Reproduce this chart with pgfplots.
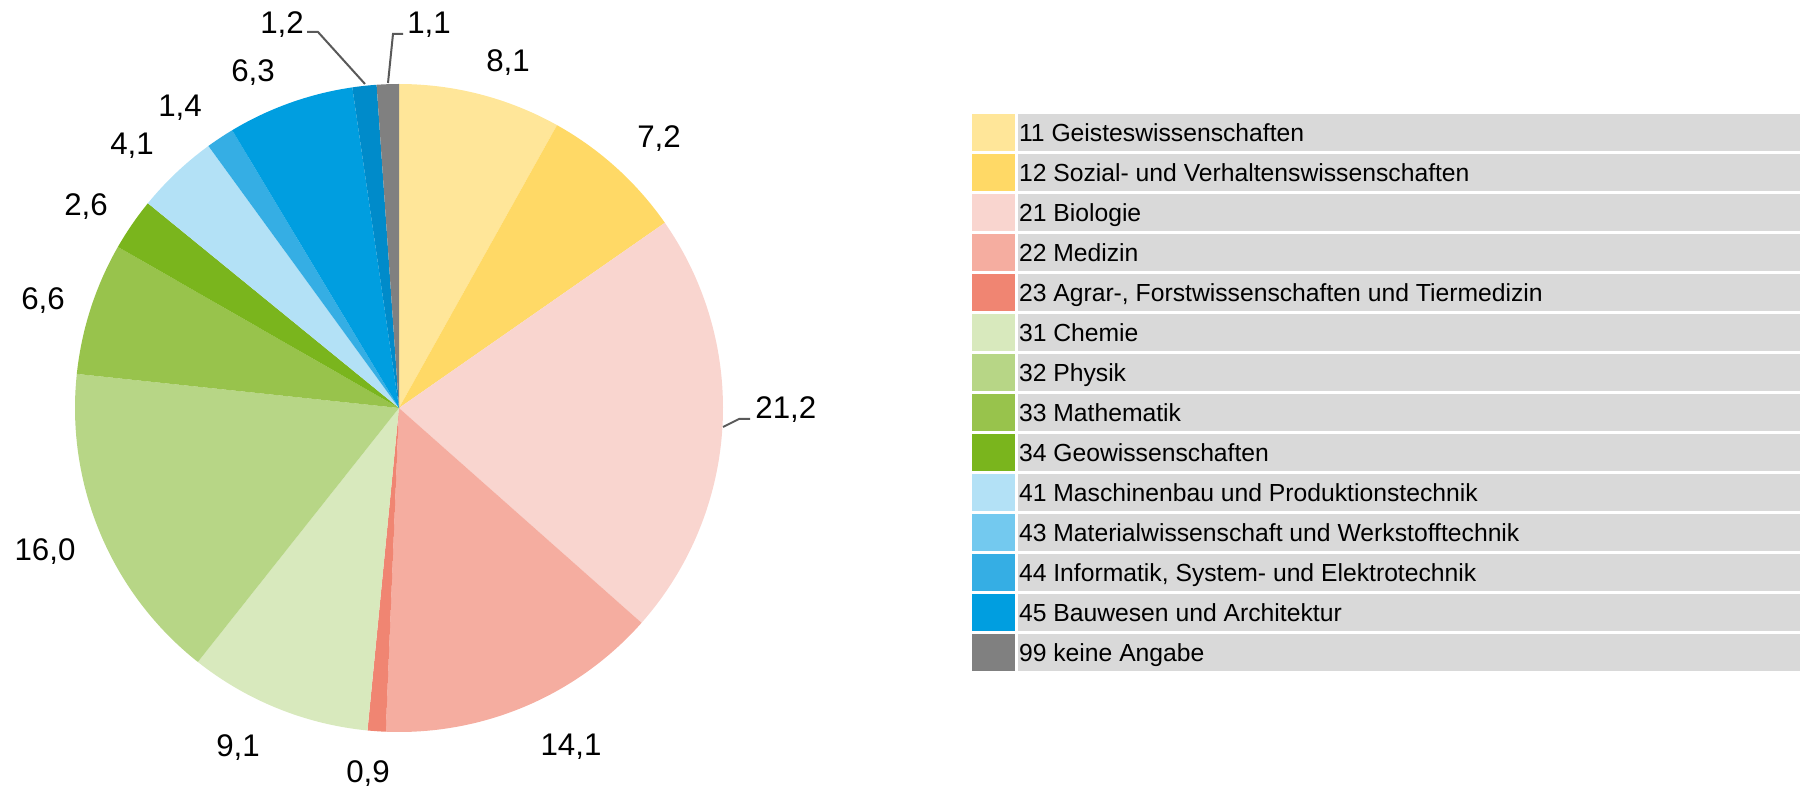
\documentclass[border=0pt]{standalone}
\usepackage{pgfplots}
\pgfplotsset{compat=1.18}
\usepackage{pgfplotstable}
\usepackage{fontspec}
\setmainfont{Liberation Sans}
\definecolor{c11}{HTML}{FFE699}
\definecolor{c12}{HTML}{FFD966}
\definecolor{c21}{HTML}{F9D5CF}
\definecolor{c22}{HTML}{F5ADA0}
\definecolor{c23}{HTML}{F08572}
\definecolor{c31}{HTML}{D8E9BD}
\definecolor{c32}{HTML}{B7D686}
\definecolor{c33}{HTML}{98C34C}
\definecolor{c34}{HTML}{7AB51D}
\definecolor{c41}{HTML}{B3E1F6}
\definecolor{c43}{HTML}{73C9EF}
\definecolor{c44}{HTML}{35AEE4}
\definecolor{c45}{HTML}{009EE0}
\definecolor{c46}{HTML}{008BCA}
\definecolor{c99}{HTML}{808080}
\definecolor{cbar}{HTML}{D9D9D9}
\definecolor{cline}{HTML}{595959}

\pgfplotstableread{
value color
8.1  c11
7.2  c12
21.2 c21
14.1 c22
0.9  c23
9.1  c31
16.0 c32
6.6  c33
2.6  c34
4.1  c41
1.4  c44
6.3  c45
1.2  c46
1.1  c99
}\piedata

\newcommand\pietotal{99.9}
\gdef\piecum{0}
\newcommand\pieslice[2]{%
  \pgfmathsetmacro\pa{90-\piecum*(360/\pietotal)}%
  \pgfmathsetmacro\pnew{\piecum+#2}%
  \xdef\piecum{\pnew}%
  \pgfmathsetmacro\pb{90-\piecum*(360/\pietotal)}%
  \edef\tmp{\noexpand\addplot[fill=#1, draw=none, domain=\pb:\pa, samples=100, forget plot] ({324*cos(x)},{324*sin(x)}) -- (axis cs:0,0) -- cycle;}%
  \tmp}

\tikzset{lbl/.style={font=\fontsize{15.7}{18}\selectfont, inner sep=0pt, text=black}}

\begin{document}
\begin{tikzpicture}
\begin{axis}[
  name=ax,
  x=0.5bp, y=0.5bp,
  xmin=-399, xmax=1401, ymin=-378, ymax=408,
  hide axis, clip=false,
  legend style={
    at={(axis cs:573,294)}, anchor=north west,
    draw=none, fill=none, inner sep=0pt, outer sep=0pt,
    row sep=1.5bp, column sep=2bp,
    font=\fontsize{12.4}{14}\selectfont,
    nodes={inner sep=0pt, outer sep=0pt, anchor=west, text height=11bp, text depth=1.8bp},
  },
  legend cell align=left,
  legend image code/.code={%
    \path[#1, draw=none] (0bp,-9.25bp) rectangle (21.5bp,9.25bp);
    \path[fill=cbar, draw=none, overlay] (23bp,-9.25bp) rectangle (414bp,9.25bp);
  },
]
\pgfplotsforeachungrouped \i in {0,...,13}{%
  \pgfplotstablegetelem{\i}{value}\of\piedata \let\pv\pgfplotsretval
  \pgfplotstablegetelem{\i}{color}\of\piedata \let\pc\pgfplotsretval
  \pieslice{\pc}{\pv}%
}
% leader lines
\addplot[cline, line width=1bp, forget plot] coordinates {(324,-19) (340,-11) (351,-11)};
\addplot[cline, line width=1bp, forget plot] coordinates {(-92,376) (-81,376) (-34,324)};
\addplot[cline, line width=1bp, forget plot] coordinates {(4,374) (-6,374) (-11,325)};
% legend
\addlegendimage{fill=c11}\addlegendentry{11 Geisteswissenschaften}
\addlegendimage{fill=c12}\addlegendentry{12 Sozial- und Verhaltenswissenschaften}
\addlegendimage{fill=c21}\addlegendentry{21 Biologie}
\addlegendimage{fill=c22}\addlegendentry{22 Medizin}
\addlegendimage{fill=c23}\addlegendentry{23 Agrar-, Forstwissenschaften und Tiermedizin}
\addlegendimage{fill=c31}\addlegendentry{31 Chemie}
\addlegendimage{fill=c32}\addlegendentry{32 Physik}
\addlegendimage{fill=c33}\addlegendentry{33 Mathematik}
\addlegendimage{fill=c34}\addlegendentry{34 Geowissenschaften}
\addlegendimage{fill=c41}\addlegendentry{41 Maschinenbau und Produktionstechnik}
\addlegendimage{fill=c43}\addlegendentry{43 Materialwissenschaft und Werkstofftechnik}
\addlegendimage{fill=c44}\addlegendentry{44 Informatik, System- und Elektrotechnik}
\addlegendimage{fill=c45}\addlegendentry{45 Bauwesen und Architektur}
\addlegendimage{fill=c99}\addlegendentry{99 keine Angabe}
% data labels
\node[lbl, anchor=base] at (axis cs:109,336) {8,1};
\node[lbl, anchor=base] at (axis cs:260,260) {7,2};
\node[lbl, anchor=base west] at (axis cs:356,-11) {21,2};
\node[lbl, anchor=base] at (axis cs:172,-347) {14,1};
\node[lbl, anchor=base] at (axis cs:-31,-374) {0,9};
\node[lbl, anchor=base] at (axis cs:-161,-348) {9,1};
\node[lbl, anchor=base] at (axis cs:-354,-152) {16,0};
\node[lbl, anchor=base] at (axis cs:-356,98) {6,6};
\node[lbl, anchor=base] at (axis cs:-313,192) {2,6};
\node[lbl, anchor=base] at (axis cs:-267,253) {4,1};
\node[lbl, anchor=base] at (axis cs:-219,291) {1,4};
\node[lbl, anchor=base] at (axis cs:-146,326) {6,3};
\node[lbl, anchor=base] at (axis cs:-117,374) {1,2};
\node[lbl, anchor=base] at (axis cs:30,374) {1,1};
\end{axis}
\pgfresetboundingbox
\path (ax.south west) rectangle (ax.north east);
\end{tikzpicture}
\end{document}
